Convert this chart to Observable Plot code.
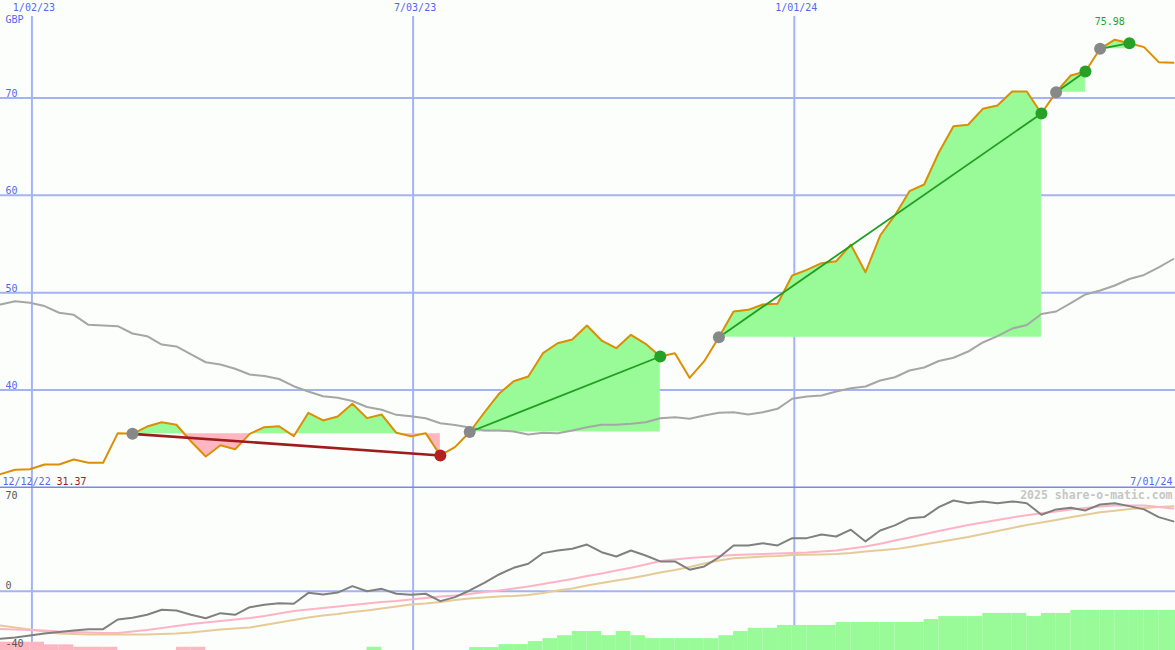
<!DOCTYPE html>
<html>
<head>
<meta charset="utf-8">
<script src="https://cdn.jsdelivr.net/npm/d3@7"></script>
<script src="https://cdn.jsdelivr.net/npm/@observablehq/plot@0.6"></script>
<style>
  html, body { margin: 0; padding: 0; background: #fbfefb; }
  #chart svg { display: block; }
</style>
</head>
<body>
<div id="chart"></div>
<script>
// ---- data (weekly closes, GBP) ----
const startDate = "2022-12-18";
const endDate = "2024-07-01";
const price = [31.37, 31.82, 31.88, 32.36, 32.36, 32.87, 32.54, 32.54, 35.58, 35.51,
  36.26, 36.70, 36.44, 34.72, 33.18, 34.34, 33.93, 35.51, 36.19, 36.29,
  35.27, 37.67, 36.88, 37.29, 38.59, 37.12, 37.49, 35.62, 35.27, 35.58,
  33.29, 34.14, 35.70, 37.70, 39.62, 40.91, 41.40, 43.79, 44.81, 45.19,
  46.63, 45.09, 44.30, 45.68, 44.75, 43.45, 43.79, 41.26, 42.97, 45.43,
  48.07, 48.24, 48.79, 48.86, 51.77, 52.35, 53.03, 53.23, 54.92, 52.10,
  55.87, 57.93, 60.42, 61.11, 64.39, 67.09, 67.24, 68.88, 69.22, 70.66,
  70.66, 68.40, 70.59, 72.30, 72.71, 75.04, 75.98, 75.62, 75.21, 73.67,
  73.60];
const movingAvg = [48.79, 49.13, 48.96, 48.63, 47.94, 47.73, 46.70, 46.63, 46.56, 45.81,
  45.53, 44.68, 44.48, 43.66, 42.86, 42.63, 42.19, 41.60, 41.45, 41.14,
  40.40, 39.86, 39.37, 39.21, 38.88, 38.26, 37.98, 37.46, 37.32, 37.11,
  36.60, 36.42, 36.16, 35.85, 35.85, 35.75, 35.44, 35.62, 35.58, 35.85,
  36.19, 36.44, 36.44, 36.54, 36.70, 37.11, 37.22, 37.05, 37.39, 37.67,
  37.73, 37.49, 37.73, 38.08, 39.11, 39.34, 39.45, 39.86, 40.19, 40.37,
  40.99, 41.32, 42.01, 42.32, 42.99, 43.32, 43.96, 44.89, 45.55, 46.32,
  46.68, 47.81, 48.07, 48.94, 49.82, 50.23, 50.74, 51.41, 51.82, 52.59,
  53.46];
const oscillator = [-32.1, -31.2, -29.9, -28.5, -27.5, -26.5, -25.6, -25.6, -19.1, -17.9,
  -15.9, -12.5, -13.0, -15.9, -18.2, -14.8, -15.9, -10.8, -9.2, -8.1,
  -8.5, -1.1, -2.2, -0.9, 3.4, 0.0, 1.6, -1.7, -2.4, -1.7,
  -6.7, -4.0, 0.5, 5.7, 11.3, 15.8, 18.5, 25.7, 27.5, 28.6,
  31.5, 26.3, 23.4, 27.5, 24.1, 20.1, 20.1, 14.5, 16.7, 22.8,
  30.9, 30.9, 32.4, 30.9, 35.8, 35.8, 38.3, 36.9, 41.5, 33.6,
  41.0, 44.4, 49.3, 50.0, 56.7, 61.2, 59.4, 60.6, 59.4, 60.6,
  59.4, 51.6, 55.2, 56.3, 54.5, 58.5, 59.4, 57.4, 55.2, 50.0,
  47.1];
const oscFast = [-25.5, -25.8, -26.2, -26.5, -27.2, -27.5, -27.8, -28.2, -28.2, -27.2,
  -26.2, -24.8, -23.5, -22.1, -21.1, -20.1, -19.1, -18.1, -16.7, -15.0,
  -13.3, -12.3, -11.3, -10.3, -9.3, -8.3, -7.3, -6.6, -5.6, -4.6,
  -3.5, -2.9, -1.9, -0.5, 0.5, 1.8, 3.2, 4.9, 6.6, 8.3,
  10.3, 12.0, 14.0, 15.8, 18.0, 20.4, 21.4, 22.4, 23.1, 23.8,
  24.5, 24.8, 25.1, 25.5, 25.8, 26.1, 26.8, 27.5, 28.8, 30.2,
  32.0, 34.2, 36.3, 38.5, 40.6, 42.7, 44.7, 46.4, 48.0, 49.8,
  51.3, 52.6, 53.8, 55.2, 56.2, 57.2, 57.9, 57.9, 57.9, 56.8,
  55.8];
const oscSlow = [-23.1, -24.5, -25.8, -27.2, -28.5, -28.9, -29.2, -29.2, -29.2, -29.2,
  -29.2, -28.9, -28.5, -27.8, -26.8, -25.8, -25.1, -24.5, -22.8, -21.1,
  -19.4, -17.7, -16.4, -15.4, -14.0, -13.0, -11.6, -10.3, -8.9, -8.3,
  -7.3, -5.9, -4.9, -4.2, -3.5, -3.2, -2.5, -1.2, 0.5, 1.8,
  3.9, 5.6, 7.2, 8.8, 10.6, 12.6, 14.3, 16.4, 18.7, 20.7,
  22.3, 22.8, 23.5, 23.8, 24.5, 24.6, 24.8, 25.1, 25.8, 26.8,
  27.7, 28.4, 29.9, 31.5, 33.2, 34.9, 36.6, 38.6, 40.6, 42.7,
  44.7, 46.4, 48.1, 49.9, 51.6, 53.3, 54.3, 55.4, 56.2, 56.8,
  57.3];
const histogram = [-5.6, -5.6, -5.6, -3.8, -3.8, -2.2, -2.2, -2.2, 0, 0,
  0, 0, -2.2, -2.2, 0, 0, 0, 0, 0, 0,
  0, 0, 0, 0, 0, 2.2, 0, 0, 0, 0,
  0, 0, 2, 2, 4, 4, 6, 8, 10, 12.8,
  12.8, 10, 12.8, 10, 8, 8, 8, 8, 8, 10,
  12.8, 15, 15, 16.9, 16.9, 16.9, 16.9, 18.9, 18.9, 18.9,
  18.9, 18.9, 18.9, 20.9, 22.9, 22.9, 22.9, 25, 25, 25,
  22.9, 25, 25, 27, 27, 27, 27, 27, 27, 27,
  27];
// trades: index of entry week and exit week
const tradeEntry = [9, 32, 49, 72, 75];
const tradeExit = [30, 45, 71, 74, 77];
// axis / labels
const gridDateStrings = ["2023-01-02", "2023-07-03", "2024-01-01"];
const gridDateLabels = ["1/02/23", "7/03/23", "1/01/24"];
const priceTicks = [40, 50, 60, 70];
const oscTicks = [70, 0, -40];
const currency = "GBP";
const lowLabelDate = "12/12/22";
const lowLabelValue = "31.37";
const endLabel = "7/01/24";
const highLabelValue = "75.98";
const watermark = "2025 share-o-matic.com";

// ---- derived ----
const start = new Date(startDate + "T00:00:00Z");
const dates = price.map((_, i) => d3.utcDay.offset(start, 7 * i));
const xDomain = [start, new Date(endDate + "T00:00:00Z")];
const gridDates = gridDateStrings.map(s => new Date(s + "T00:00:00Z"));

const trades = tradeEntry.map((e, k) => ({
  k, e, x: tradeExit[k],
  d1: dates[e], p1: price[e], d2: dates[tradeExit[k]], p2: price[tradeExit[k]],
  win: price[tradeExit[k]] >= price[e]
}));

const fillRows = [];
for (const t of trades) {
  const base = t.p1;
  for (let i = t.e; i <= t.x; i++) {
    if (i > t.e) {
      const a = price[i - 1] - base, b = price[i] - base;
      if (a * b < 0) {
        const f = a / (a - b);
        fillRows.push({k: t.k, base, p: base, date: new Date(+dates[i - 1] + f * (dates[i] - dates[i - 1]))});
      }
    }
    fillRows.push({k: t.k, base, p: price[i], date: dates[i]});
  }
}

const rows = dates.map((d, i) => ({
  date: d, next: d3.utcDay.offset(d, 7), price: price[i], avg: movingAvg[i],
  osc: oscillator[i], fast: oscFast[i], slow: oscSlow[i], hist: histogram[i]
}));
const hiIdx = d3.maxIndex(price);

const BLUE = "#a5b3f5";
const BLUE_DARK = "#7787ef";
const LABEL_BLUE = "#5468ee";
const FONT = "DejaVu Sans Mono";

const upper = Plot.plot({
  width: 1175, height: 488,
  marginTop: 0, marginLeft: 0, marginRight: 0, marginBottom: 1,
  x: {type: "utc", domain: xDomain, axis: null},
  y: {domain: [30, 80], axis: null},
  style: {background: "#fbfefb", fontFamily: FONT, fontSize: "10px", overflow: "hidden"},
  marks: [
    Plot.ruleY(priceTicks, {stroke: BLUE, strokeWidth: 2}),
    Plot.ruleX(gridDates, {stroke: BLUE, strokeWidth: 2, insetTop: 16}),
    Plot.areaY(fillRows, {x: "date", y1: "base", y2: d => Math.max(d.p, d.base), z: "k", fill: "#98fb98", curve: "linear"}),
    Plot.areaY(fillRows, {x: "date", y1: d => Math.min(d.p, d.base), y2: "base", z: "k", fill: "#ffb6c1", curve: "linear"}),
    Plot.line(rows, {x: "date", y: "avg", stroke: "#a6a6a6", strokeWidth: 2}),
    Plot.line(rows, {x: "date", y: "price", stroke: "#dc8e05", strokeWidth: 2}),
    Plot.link(trades, {x1: "d1", y1: "p1", x2: "d2", y2: "p2", stroke: d => d.win ? "#1f9e1f" : "#a01c1c", strokeWidth: d => d.win ? 1.8 : 2.6}),
    Plot.dot(trades, {x: "d1", y: "p1", r: 6, fill: "#888888", stroke: "none"}),
    Plot.dot(trades, {x: "d2", y: "p2", r: 6, fill: d => d.win ? "#26a126" : "#b32020", stroke: "none"}),
    Plot.ruleY([30], {stroke: BLUE_DARK, strokeWidth: 2}),
    Plot.text(gridDates, {x: d => d, text: (d, i) => gridDateLabels[i], frameAnchor: "top", dy: 3, dx: 2, lineAnchor: "top", fill: LABEL_BLUE, fontSize: 10}),
    Plot.text([currency], {frameAnchor: "top-left", dx: 5, dy: 15, textAnchor: "start", lineAnchor: "top", fill: LABEL_BLUE, fontSize: 10}),
    Plot.text(priceTicks, {x: xDomain[0], y: d => d, text: d => String(d), dx: 5, dy: -1, textAnchor: "start", lineAnchor: "bottom", fill: LABEL_BLUE, fontSize: 10}),
    Plot.text([lowLabelDate], {frameAnchor: "bottom-left", dx: 2, dy: -3, textAnchor: "start", lineAnchor: "bottom", fill: LABEL_BLUE, fontSize: 10}),
    Plot.text([lowLabelValue], {frameAnchor: "bottom-left", dx: 56, dy: -3, textAnchor: "start", lineAnchor: "bottom", fill: "#a01c1c", fontSize: 10}),
    Plot.text([endLabel], {frameAnchor: "bottom-right", dx: -3, dy: -3, textAnchor: "end", lineAnchor: "bottom", fill: LABEL_BLUE, fontSize: 10}),
    Plot.text([highLabelValue], {x: dates[hiIdx], y: price[hiIdx], dx: -5, dy: -15, lineAnchor: "bottom", fill: "#26a126", fontSize: 10})
  ]
});

const OSC_BOTTOM = -40;
const lower = Plot.plot({
  width: 1175, height: 162,
  margin: 0,
  x: {type: "utc", domain: xDomain, axis: null},
  y: {domain: [OSC_BOTTOM, 69.3], axis: null},
  style: {background: "#fbfefb", fontFamily: FONT, fontSize: "10px", overflow: "hidden"},
  marks: [
    Plot.ruleX(gridDates, {stroke: BLUE, strokeWidth: 2}),
    Plot.ruleY([0], {stroke: BLUE, strokeWidth: 2}),
    Plot.rect(rows.filter(d => d.hist !== 0), {x1: "date", x2: "next", y1: OSC_BOTTOM, y2: d => OSC_BOTTOM + Math.abs(d.hist), fill: d => d.hist < 0 ? "#ffb6c1" : "#98fb98"}),
    Plot.line(rows, {x: "date", y: "slow", stroke: "#e6cb98", strokeWidth: 2}),
    Plot.line(rows, {x: "date", y: "fast", stroke: "#ffb3c4", strokeWidth: 2}),
    Plot.line(rows, {x: "date", y: "osc", stroke: "#808080", strokeWidth: 2}),
    Plot.text([oscTicks[0]], {frameAnchor: "top-left", dx: 5, dy: 3, textAnchor: "start", lineAnchor: "top", fill: "#555555", fontSize: 10}),
    Plot.text([oscTicks[1]], {x: xDomain[0], y: oscTicks[1], dx: 5, dy: -2, textAnchor: "start", lineAnchor: "bottom", fill: "#555555", fontSize: 10}),
    Plot.text([oscTicks[2]], {frameAnchor: "bottom-left", dx: 5, dy: -4, textAnchor: "start", lineAnchor: "bottom", fill: "#555555", fontSize: 10}),
    Plot.text([watermark], {frameAnchor: "top-right", dx: -3, dy: 2, textAnchor: "end", lineAnchor: "top", fill: "#c6c6c6", fontSize: 11.5, fontWeight: "bold"})
  ]
});

const el = document.getElementById("chart");
el.appendChild(upper);
el.appendChild(lower);
</script>
</body>
</html>
